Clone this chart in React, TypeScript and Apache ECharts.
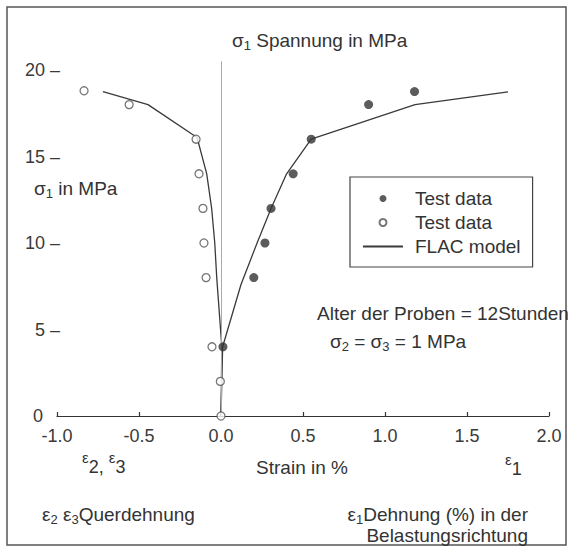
import React, { useEffect, useRef } from "react";
import * as echarts from "echarts";

// ---- data ----
const xMin = -1;
const xMax = 2;
const xInterval = 0.5;
const yMin = 0;
const yMaxTick = 20;
const yInterval = 5;

// Test data, axial strain eps1 (filled circles)
const axialStrain = [0.012, 0.2, 0.268, 0.305, 0.44, 0.55, 0.9, 1.18];
const axialStress = [4, 8, 10, 12, 14, 16, 18, 18.75];

// Test data, lateral strain eps2/eps3 (open circles)
const lateralStrain = [-0.835, -0.56, -0.152, -0.134, -0.11, -0.104, -0.091, -0.055, -0.004, 0];
const lateralStress = [18.8, 18.0, 16, 14, 12, 10, 8, 4, 2, 0];

// FLAC model, lateral branch
const modelLatStrain = [-0.72, -0.445, -0.146, -0.087, -0.057, -0.038, -0.026, 0.005, 0];
const modelLatStress = [18.75, 18.0, 16.1, 14, 12, 10, 8, 4, 0];

// FLAC model, axial branch
const modelAxStrain = [0, 0.01, 0.122, 0.22, 0.305, 0.4, 0.55, 1.183, 1.75];
const modelAxStress = [0, 4, 7.6, 10, 12, 14, 16, 18, 18.73];

const SERIES_AX = "Test data ε1";
const SERIES_LAT = "Test data ε2ε3";
const SERIES_MODEL = "FLAC model";

const FONT = "Liberation Sans, Arial, Helvetica, sans-serif";
const TXT = "#333";

const zip = (xs: number[], ys: number[]) => xs.map((x, i) => [x, ys[i]]);

export default function App() {
  const ref = useRef<HTMLDivElement>(null);

  useEffect(() => {
    const chart = echarts.init(ref.current!, null, { renderer: "svg" });

    const g = { fontSize: 19, lineHeight: 19, fontFamily: FONT, fill: TXT };
    const s = { fontSize: 13, lineHeight: 13, fontFamily: FONT, fill: TXT, padding: [10, 0, 0, 0] };
    const e = { fontSize: 15, lineHeight: 15, fontFamily: FONT, fill: TXT, padding: [0, 0, 20, 0] };
    const rich = { g, s, e };

    const txt = (x: number, y: number, text: string, size = 19, align = "left") => ({
      type: "text",
      x,
      y,
      silent: true,
      style: {
        text,
        fontSize: size,
        fontFamily: FONT,
        fill: TXT,
        align,
        verticalAlign: "middle",
        rich,
      },
    });

    const option: any = {
      animation: false,
      backgroundColor: "#fff",
      grid: { left: 57, right: 19, top: 61.35, bottom: 131 },
      xAxis: {
        type: "value",
        min: xMin,
        max: xMax,
        interval: xInterval,
        splitLine: { show: false },
        axisLine: { lineStyle: { color: "#333", width: 1.2 } },
        axisTick: { inside: true, length: 4, lineStyle: { color: "#333", width: 1.2 } },
        axisLabel: {
          formatter: (v: number) => v.toFixed(1),
          fontSize: 18,
          fontFamily: FONT,
          color: "#3a3a3a",
          margin: 11,
        },
      },
      yAxis: {
        type: "value",
        min: yMin,
        max: 20.5,
        interval: yInterval,
        splitLine: { show: false },
        axisLine: { show: false },
        axisTick: { show: false },
        axisLabel: {
          formatter: (v: number) =>
            v % yInterval !== 0 || v > yMaxTick ? "" : v === 0 ? "{z|0}" : `${v} –`,
          fontSize: 18,
          fontFamily: FONT,
          color: "#3a3a3a",
          margin: -3,
          rich: { z: { fontSize: 18, fontFamily: FONT, color: "#3a3a3a", padding: [0, 17, 0, 0] } },
        },
      },
      legend: {
        orient: "vertical",
        left: 350,
        top: 177,
        padding: [12, 12, 11, 12],
        itemWidth: 40,
        itemHeight: 7,
        itemGap: 5,
        borderColor: "#444",
        borderWidth: 1.2,
        selectedMode: false,
        data: [SERIES_AX, SERIES_LAT, { name: SERIES_MODEL, itemStyle: { opacity: 0 } }],
        formatter: (n: string) => (n.startsWith("Test") ? "Test data" : n),
        textStyle: { fontSize: 19, lineHeight: 19, fontFamily: FONT, color: TXT, padding: [0, 0, 0, 7] },
      },
      series: [
        {
          name: SERIES_MODEL,
          type: "line",
          data: zip(modelLatStrain, modelLatStress),
          symbol: "none",
          showSymbol: false,
          lineStyle: { color: "#3a3a3a", width: 1.3 },
          itemStyle: { color: "#3a3a3a" },
          z: 3,
        },
        {
          name: SERIES_MODEL,
          type: "line",
          data: zip(modelAxStrain, modelAxStress),
          symbol: "none",
          showSymbol: false,
          lineStyle: { color: "#3a3a3a", width: 1.3 },
          itemStyle: { color: "#3a3a3a" },
          z: 3,
        },
        {
          name: SERIES_AX,
          type: "scatter",
          data: zip(axialStrain, axialStress),
          symbol: "circle",
          symbolSize: 9,
          itemStyle: { color: "#333" },
          z: 5,
          markLine: {
            silent: true,
            symbol: ["none", "none"],
            label: { show: false },
            lineStyle: { color: "#aaa", width: 1, type: "solid" },
            data: [{ xAxis: 0 }],
          },
        },
        {
          name: SERIES_LAT,
          type: "scatter",
          data: zip(lateralStrain, lateralStress),
          symbol: "circle",
          symbolSize: 8,
          itemStyle: { color: "#fff", borderColor: "#555", borderWidth: 1.3 },
          z: 5,
        },
      ],
      graphic: [
        {
          type: "rect",
          silent: true,
          z: -1,
          shape: { x: 7, y: 7, width: 559, height: 538 },
          style: { fill: "none", stroke: "#555", lineWidth: 1.5 },
        },
        txt(232, 40, "{g|σ}{s|1} Spannung in MPa"),
        txt(34, 188, "{g|σ}{s|1} in MPa"),
        txt(317, 313, "Alter der Proben = 12Stunden"),
        txt(330, 341, "{g|σ}{s|2} = {g|σ}{s|3} = 1 MPa"),
        txt(82, 467, "{e|ε}2, {e|ε}3", 18),
        txt(302, 467, "Strain in %", 19, "center"),
        txt(505, 469, "{e|ε}1", 18),
        txt(42, 514, "{g|ε}{s|2} {g|ε}{s|3}Querdehnung"),
        txt(528, 514, "{g|ε}{s|1}Dehnung (%) in der", 19, "right"),
        txt(528, 535, "Belastungsrichtung", 19, "right"),
      ],
    };

    chart.setOption(option);
    return () => chart.dispose();
  }, []);

  return (
    <div
      ref={ref}
      style={{ position: "fixed", left: 0, top: 0, width: 568, height: 547, background: "#fff" }}
    />
  );
}
